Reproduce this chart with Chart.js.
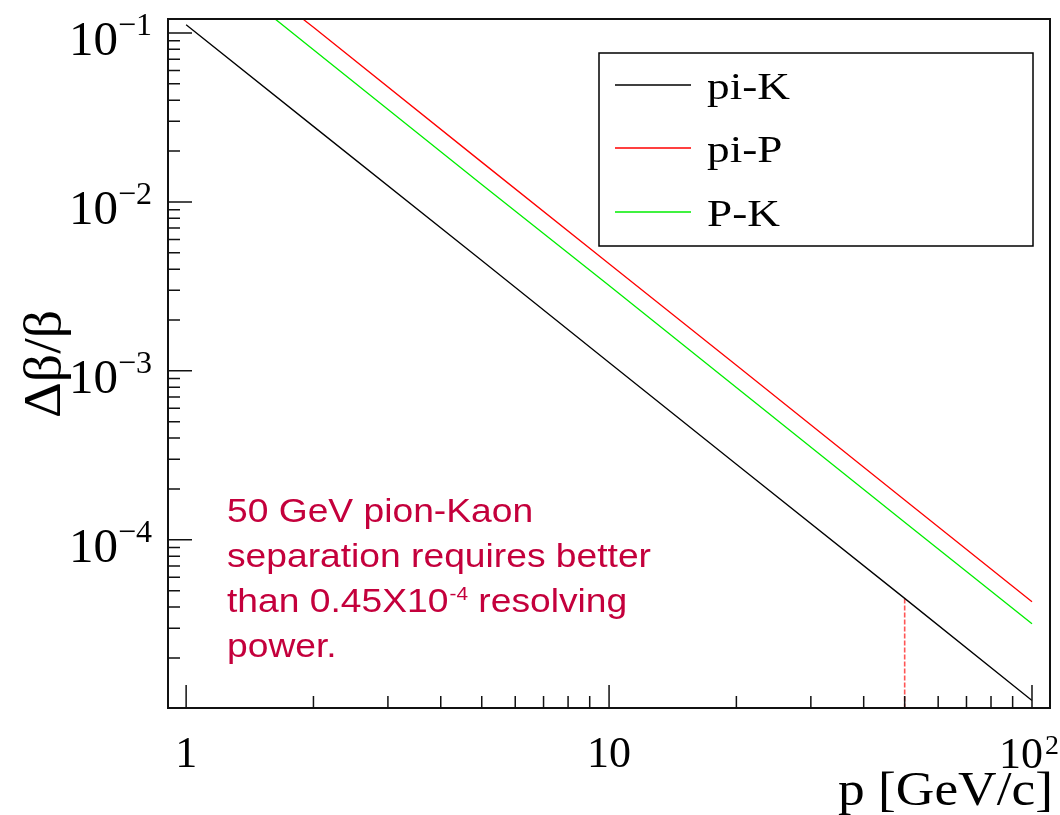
<!DOCTYPE html>
<html>
<head>
<meta charset="utf-8">
<script src="https://cdn.jsdelivr.net/npm/chart.js@4/dist/chart.umd.min.js"></script>
<style>
  html, body { margin: 0; padding: 0; background: #fff; }
  canvas { display: block; }
</style>
</head>
<body>
<canvas id="sepChart" width="1060" height="815"></canvas>
<script>
// momentum points (GeV/c) and delta-beta/beta for each particle pair
const pPiK = [1, 2, 5, 10, 20, 50, 100];
const piK  = [0.112, 0.028, 0.0045, 0.00112, 0.00028, 0.000045, 0.0000112];
const pPiP = [1.88, 2, 5, 10, 20, 50, 100];
const piP  = [0.122, 0.108, 0.0172, 0.0043, 0.00108, 0.000172, 0.000043];
const pPK  = [1.61, 2, 5, 10, 20, 50, 100];
const PK   = [0.123, 0.0796, 0.0127, 0.0032, 0.000796, 0.000127, 0.0000318];

const seriesNames  = ["pi-K", "pi-P", "P-K"];
const seriesColors = ["#000000", "#ff0000", "#00ee00"];

// axis ranges and labelled decades
const xRange = [0.906, 110.3];
const yRange = [1.01e-5, 0.121];
const xDecades = [0, 1, 2];          // 1, 10, 10^2
const yDecades = [-5, -4, -3, -2, -1];

// 50 GeV marker, dropped from the pi-K curve
const markP = 50;
const markLevel = piK[pPiK.indexOf(markP)];

const serif = '"Liberation Serif", "Times New Roman", serif';
const sans  = '"Liberation Sans", Arial, sans-serif';

function pts(xs, ys) {
  return xs.map((x, i) => ({ x: x, y: ys[i] }));
}

// draw text squeezed/stretched to a given width
function fitText(ctx, text, x, y, width) {
  const w = ctx.measureText(text).width;
  ctx.save();
  ctx.translate(x, y);
  ctx.scale(width / w, 1);
  ctx.fillText(text, 0, 0);
  ctx.restore();
}

const frameAndAxes = {
  id: 'frameAndAxes',
  beforeDraw(chart) {
    const ctx = chart.ctx;
    ctx.save();
    ctx.fillStyle = '#fff';
    ctx.fillRect(0, 0, chart.width, chart.height);
    ctx.restore();
  },
  afterDraw(chart) {
    const ctx = chart.ctx;
    const a = chart.chartArea;
    const xs = chart.scales.x, ys = chart.scales.y;
    ctx.save();
    ctx.strokeStyle = '#111';
    ctx.lineWidth = 2;
    ctx.strokeRect(a.left, a.top, a.right - a.left, a.bottom - a.top);

    // ticks, inside the frame
    ctx.lineWidth = 1.5;
    ctx.beginPath();
    for (let d = -1; d <= 2; d++) {
      for (let k = 1; k <= 9; k++) {
        const v = k * Math.pow(10, d);
        if (v < xRange[0] || v > xRange[1]) continue;
        const px = xs.getPixelForValue(v);
        const len = k === 1 ? 23 : 12;
        ctx.moveTo(px, a.bottom);
        ctx.lineTo(px, a.bottom - len);
      }
    }
    for (let d = -6; d <= -1; d++) {
      for (let k = 1; k <= 9; k++) {
        const v = k * Math.pow(10, d);
        if (v < yRange[0] || v > yRange[1]) continue;
        const py = ys.getPixelForValue(v);
        const len = k === 1 ? 24 : 12;
        ctx.moveTo(a.left, py);
        ctx.lineTo(a.left + len, py);
      }
    }
    ctx.stroke();

    // tick labels
    ctx.fillStyle = '#000';
    ctx.textBaseline = 'alphabetic';
    xDecades.forEach(e => {
      const px = xs.getPixelForValue(Math.pow(10, e));
      ctx.font = '44px ' + serif;
      if (e === 0) { ctx.textAlign = 'center'; ctx.fillText('1', px, 767); }
      else if (e === 1) { ctx.textAlign = 'center'; ctx.fillText('10', px, 767); }
      else {
        ctx.textAlign = 'right';
        ctx.fillText('10', px + 11, 768);
        ctx.font = '28px ' + serif;
        ctx.textAlign = 'left';
        ctx.fillText(String(e), px + 13, 754);
      }
    });
    yDecades.forEach(e => {
      const v = Math.pow(10, e);
      if (v < yRange[0] || v > yRange[1]) return;
      const py = ys.getPixelForValue(v);
      ctx.font = '49px ' + serif;
      ctx.textAlign = 'right';
      ctx.fillText('10', 118, py + 22);
      ctx.font = '32px ' + serif;
      ctx.textAlign = 'left';
      ctx.fillText('\u2212' + Math.abs(e), 118, py + 2);
    });

    // axis titles
    ctx.textAlign = 'left';
    ctx.font = '48px ' + serif;
    fitText(ctx, 'p [GeV/c]', 838, 805, 215);
    ctx.save();
    ctx.translate(60, 364);
    ctx.rotate(-Math.PI / 2);
    ctx.font = '53px ' + serif;
    fitText(ctx, '\u0394\u03b2/\u03b2', -54, 0, 108);
    ctx.restore();

    // legend
    ctx.lineWidth = 1.5;
    ctx.strokeStyle = '#000';
    ctx.strokeRect(599, 53, 434, 193);
    const rows = [85, 148, 212];
    ctx.font = '37px ' + serif;
    const sx = 83 / ctx.measureText('pi-K').width;
    seriesNames.forEach((name, i) => {
      ctx.strokeStyle = seriesColors[i];
      ctx.lineWidth = 1.5;
      ctx.beginPath();
      ctx.moveTo(615, rows[i]);
      ctx.lineTo(691, rows[i]);
      ctx.stroke();
      ctx.save();
      ctx.translate(707, rows[i] + 14);
      ctx.scale(sx, 1);
      ctx.fillStyle = '#000';
      ctx.fillText(name, 0, 0);
      ctx.restore();
    });

    // note
    ctx.fillStyle = '#c4003c';
    ctx.font = '34px ' + sans;
    const nsx = 424 / ctx.measureText('separation requires better').width;
    ctx.save();
    ctx.translate(227, 0);
    ctx.scale(nsx, 1);
    ctx.fillText('50 GeV pion-Kaon', 0, 522);
    ctx.fillText('separation requires better', 0, 567);
    const head = 'than 0.45X10';
    ctx.fillText(head, 0, 612);
    let w = ctx.measureText(head).width;
    ctx.font = '19px ' + sans;
    ctx.fillText('-4', w + 1, 600);
    w += ctx.measureText('-4').width + 1;
    ctx.font = '34px ' + sans;
    ctx.fillText(' resolving', w, 612);
    ctx.fillText('power.', 0, 657);
    ctx.restore();

    ctx.restore();
  }
};

const lineStyle = { showLine: true, pointRadius: 0, borderWidth: 1.3, tension: 0, fill: false };

new Chart(document.getElementById('sepChart'), {
  type: 'scatter',
  data: {
    datasets: [
      Object.assign({ label: seriesNames[0], data: pts(pPiK, piK), borderColor: seriesColors[0] }, lineStyle),
      Object.assign({ label: seriesNames[1], data: pts(pPiP, piP), borderColor: seriesColors[1] }, lineStyle),
      Object.assign({ label: seriesNames[2], data: pts(pPK, PK), borderColor: seriesColors[2] }, lineStyle),
      Object.assign({}, lineStyle, {
        label: 'marker',
        data: [{ x: markP, y: markLevel }, { x: markP, y: yRange[0] }],
        borderColor: '#ff5555',
        borderDash: [5, 2],
        borderWidth: 1.6
      })
    ]
  },
  options: {
    responsive: false,
    animation: false,
    layout: { padding: { left: 168, top: 19, right: 10, bottom: 107 } },
    plugins: { legend: { display: false }, tooltip: { enabled: false } },
    scales: {
      x: { type: 'logarithmic', display: false, bounds: 'data', min: xRange[0], max: xRange[1] },
      y: { type: 'logarithmic', display: false, bounds: 'data', min: yRange[0], max: yRange[1] }
    }
  },
  plugins: [frameAndAxes]
});
</script>
</body>
</html>
